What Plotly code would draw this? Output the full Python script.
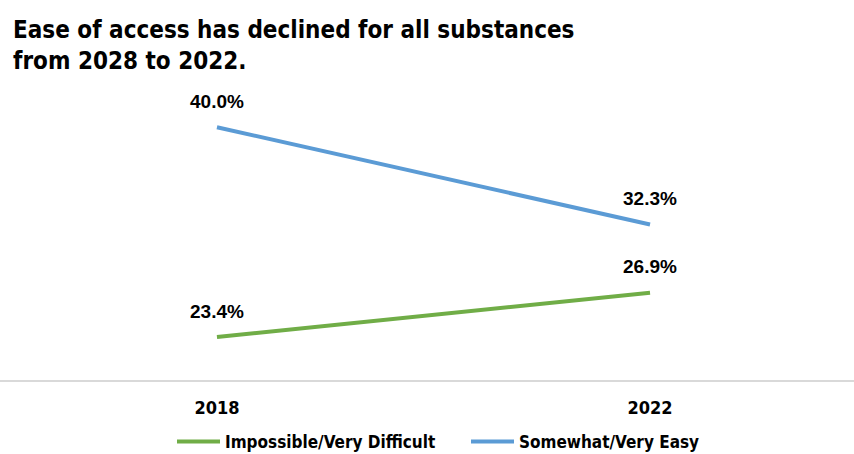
import plotly.graph_objects as go

years = ["2018", "2022"]
difficult = [23.4, 26.9]
easy = [40.0, 32.3]
series_names = ["Impossible/Very Difficult", "Somewhat/Very Easy"]
colors = ["#70AD47", "#5B9BD5"]
title_text = "Ease of access has declined for all substances<br>from 2028 to 2022."

COND = "DejaVu Sans Condensed, Liberation Sans Narrow, sans-serif"
LABEL = "Liberation Sans, Arial, sans-serif"

fig = go.Figure()
for name, vals, col in zip(series_names, [difficult, easy], colors):
    fig.add_trace(go.Scatter(
        x=years, y=vals, name=name, mode="lines",
        line=dict(color=col, width=4),
    ))
    for i, yv in enumerate(vals):
        fig.add_annotation(
            x=i, y=yv, xref="x", yref="y",
            text=f"{yv:.1f}%", showarrow=False,
            yanchor="middle", yshift=26,
            font=dict(family=LABEL, size=19, color="#000000", weight="bold"),
        )

fig.update_layout(
    width=854, height=454,
    margin=dict(l=0, r=0, t=64, b=74, autoexpand=False),
    paper_bgcolor="white", plot_bgcolor="white",
    title=dict(
        text=title_text,
        x=13 / 854, xref="container", xanchor="left",
        y=1 - 38 / 454, yref="container", yanchor="top",
        font=dict(family=COND, size=24, color="#000000", weight="bold"),
    ),
    legend=dict(
        orientation="h", x=172 / 854, xanchor="left", xref="container",
        y=1 - 442 / 454, yanchor="middle", yref="container",
        font=dict(family=COND, size=17, color="#000000", weight="bold"),
        itemwidth=43, tracegroupgap=0, entrywidth=236, entrywidthmode="pixels",
    ),
    xaxis=dict(
        type="category", range=[-0.501, 1.471], automargin=False,
        showgrid=False, zeroline=False,
        showline=True, linecolor="#D9D9D9", linewidth=2,
        ticks="", ticklabelstandoff=10,
        tickfont=dict(family=COND, size=18, color="#000000", weight="bold"),
    ),
    yaxis=dict(
        range=[20, 45], visible=False, showgrid=False, zeroline=False,
        automargin=False,
    ),
    showlegend=True,
)

fig.write_html(
    "out.html",
    config={"displayModeBar": False},
    post_script="document.body.style.margin='0';document.body.style.padding='0';",
)
